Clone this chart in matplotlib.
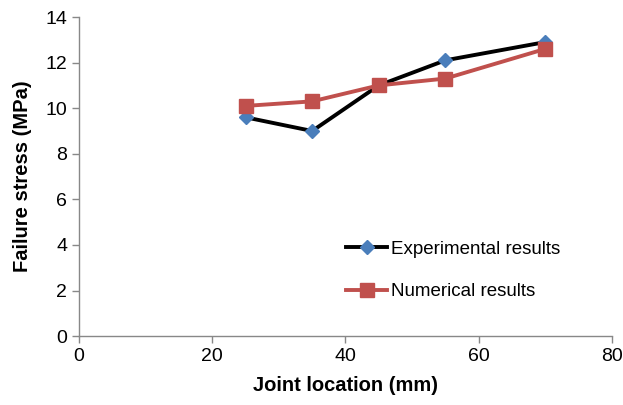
import matplotlib
matplotlib.use("Agg")
import matplotlib.pyplot as plt

plt.rcParams['font.family'] = ['Liberation Sans', 'DejaVu Sans']

# Joint position along the specimen and measured / simulated failure stress
joint_location = [25, 35, 45, 55, 70]
experimental = [9.6, 9.0, 11.0, 12.1, 12.9]
numerical = [10.1, 10.3, 11.0, 11.3, 12.6]

fig = plt.figure(figsize=(6.23, 4.05), dpi=100)
ax = fig.add_axes([0.127, 0.170, 0.855, 0.788])

ax.plot(joint_location, experimental, color='black', linewidth=2.8,
        marker='D', markersize=7, markerfacecolor='#4a7ebb',
        markeredgecolor='#4a7ebb', label='Experimental results', zorder=3)
ax.plot(joint_location, numerical, color='#c0504d', linewidth=2.8,
        marker='s', markersize=10, markerfacecolor='#c0504d',
        markeredgecolor='#c0504d', label='Numerical results', zorder=4)

ax.set_xlim(0, 80)
ax.set_ylim(0, 14)
ax.set_xticks(range(0, 81, 20))
ax.set_yticks(range(0, 15, 2))

for side in ['top', 'right']:
    ax.spines[side].set_visible(False)
for side in ['left', 'bottom']:
    ax.spines[side].set_color('#888888')
    ax.spines[side].set_linewidth(1.0)
ax.tick_params(direction='out', length=5, width=1, color='#888888',
               labelsize=14, labelcolor='black')

ax.set_xlabel('Joint location (mm)', fontsize=14.5, fontweight='bold', labelpad=8)
ax.set_ylabel('Failure stress (MPa)', fontsize=14.5, fontweight='bold', labelpad=10)

ax.legend(loc='lower right', bbox_to_anchor=(0.935, 0.06), frameon=False,
          fontsize=13.5, handlelength=2.2, handletextpad=0.2, labelspacing=1.35)

fig.savefig('out.png', dpi=100)
